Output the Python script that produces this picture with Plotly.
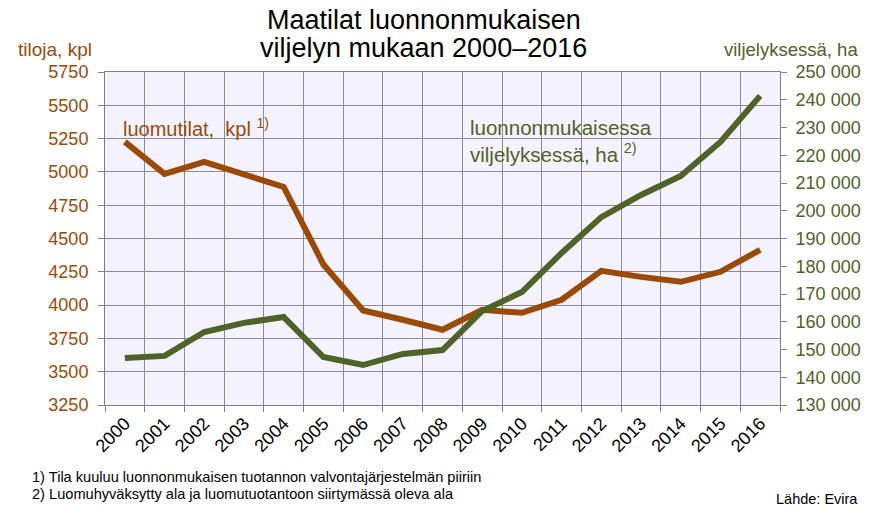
import plotly.graph_objects as go

years = [str(y) for y in range(2000, 2017)]
farms = [5225, 4985, 5075, 4980, 4887, 4305, 3960, 3890, 3815, 3965, 3942, 4040, 4257, 4212, 4175, 4250, 4415]
area_ha = [146900, 147700, 156300, 159600, 161700, 147300, 144400, 148400, 149800, 163900, 170700, 184800, 197700, 205700, 212500, 224800, 241400]

left_ticks = list(range(3250, 5751, 250))
right_ticks = list(range(130000, 250001, 10000))
right_ticktext = [f"{v:,}".replace(",", " ") for v in right_ticks]

ORANGE = "#9A4A07"
GREEN = "#4F6228"
FONT = "Liberation Sans, Arial, sans-serif"

W, H = 873, 515
L, R, T, B = 105, 785, 72, 405

def px(x):
    return (x - L) / (R - L)

def py(y):
    return (B - y) / (B - T)

fig = go.Figure()
fig.add_trace(go.Scatter(x=years, y=farms, mode="lines", line=dict(color=ORANGE, width=6),
                         yaxis="y", showlegend=False))
fig.add_trace(go.Scatter(x=years, y=area_ha, mode="lines", line=dict(color=GREEN, width=6),
                         yaxis="y2", showlegend=False))

fig.update_layout(
    width=W, height=H,
    margin=dict(l=L, r=W - R, t=T, b=H - B, pad=0),
    paper_bgcolor="white",
    plot_bgcolor="#F4F2FF",
    font=dict(family=FONT, size=18, color="black"),
    xaxis=dict(type="category", range=[-0.5, 16.5], tickson="boundaries", ticks="outside",
               ticklen=6, tickcolor="#808080", showgrid=True, gridcolor="#8C8C8C", gridwidth=1,
               showline=True, linecolor="#808080", mirror=True, tickangle=-45,
               tickfont=dict(size=18, color="black"), fixedrange=True),
    yaxis=dict(range=[3250, 5750], tickvals=left_ticks, ticktext=[str(v) for v in left_ticks],
               ticks="outside", ticklen=6, tickcolor="#808080", showgrid=True,
               gridcolor="#8C8C8C", gridwidth=1, showline=True, linecolor="#808080",
               zeroline=False, ticklabelstandoff=6, tickfont=dict(size=18, color=ORANGE)),
    yaxis2=dict(range=[130000, 250000], tickvals=right_ticks, ticktext=right_ticktext,
                overlaying="y", side="right", ticks="outside", ticklen=6, tickcolor="#808080",
                showgrid=False, showline=True, linecolor="#808080", zeroline=False,
                ticklabelstandoff=5, tickfont=dict(size=18, color=GREEN)),
)

ann = [
    dict(text="Maatilat luonnonmukaisen", x=px(426), y=py(20),
         xanchor="center", yanchor="middle", font=dict(size=27, color="black")),
    dict(text="viljelyn mukaan 2000–2016", x=px(426), y=py(48),
         xanchor="center", yanchor="middle", font=dict(size=27, color="black")),
    dict(text="tiloja, kpl", x=px(55), y=py(50), xanchor="center", yanchor="middle",
         font=dict(size=19, color=ORANGE)),
    dict(text="viljelyksessä, ha", x=px(866), y=py(50), xanchor="right", yanchor="middle",
         font=dict(size=18.5, color=GREEN)),
    dict(text="luomutilat,  kpl <sup>1)</sup>", x=px(121), y=py(127), xanchor="left",
         yanchor="middle", font=dict(size=20, color=ORANGE)),
    dict(text="luonnonmukaisessa<br>viljelyksessä, ha <sup>2)</sup>", x=px(471), y=py(141),
         xanchor="left", yanchor="middle", align="left", font=dict(size=20.5, color=GREEN)),
    dict(text="1) Tila kuuluu luonnonmukaisen tuotannon valvontajärjestelmän piiriin", x=px(29),
         y=py(477), xanchor="left", yanchor="middle", font=dict(size=14.6, color="black")),
    dict(text="2) Luomuhyväksytty ala ja luomutuotantoon siirtymässä oleva ala", x=px(29),
         y=py(494), xanchor="left", yanchor="middle", font=dict(size=14.6, color="black")),
    dict(text="Lähde: Evira", x=px(866), y=py(499), xanchor="right", yanchor="middle",
         font=dict(size=14.5, color="black")),
]
for a in ann:
    a.update(xref="paper", yref="paper", showarrow=False)
fig.update_layout(annotations=ann)

fig.write_html("out.html")
